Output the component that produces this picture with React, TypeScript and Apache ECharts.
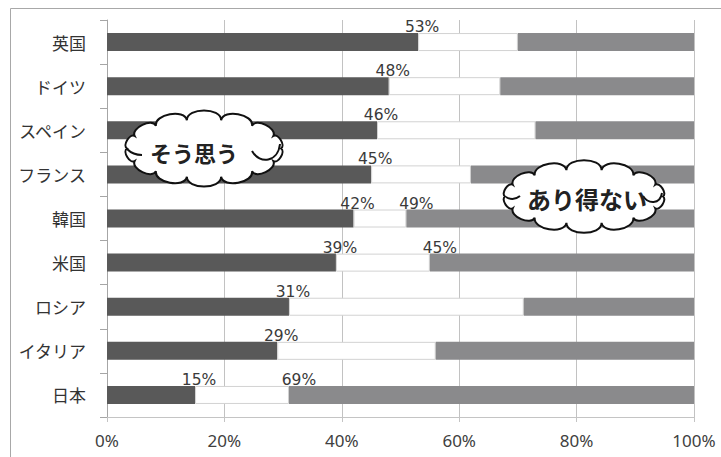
import React, { useEffect, useRef } from "react";
import * as echarts from "echarts";

// Survey answers per country, in percent of respondents
const categories = ["英国", "ドイツ", "スペイン", "フランス", "韓国", "米国", "ロシア", "イタリア", "日本"];
const agreeValues = [53, 48, 46, 45, 42, 39, 31, 29, 15];
const neutralValues = [17, 19, 27, 17, 9, 16, 40, 27, 16];
const impossibleValues = [30, 33, 27, 38, 49, 45, 29, 44, 69];
// countries whose "あり得ない" share is printed on the bar
const impossibleLabeled = ["韓国", "米国", "日本"];

const axisMin = 0;
const axisMax = 100;
const axisStep = 20;

// Closed cloud outline: points on an ellipse joined by outward-bulging cubic bumps
function cloudPath(cx: number, cy: number, rx: number, ry: number, n: number, k: number): string {
  const pts: [number, number][] = [];
  for (let i = 0; i < n; i++) {
    const t = (2 * Math.PI * i) / n;
    pts.push([cx + rx * Math.cos(t), cy + ry * Math.sin(t)]);
  }
  let d = `M${pts[0][0].toFixed(2)},${pts[0][1].toFixed(2)}`;
  for (let i = 0; i < n; i++) {
    const p0 = pts[i];
    const p1 = pts[(i + 1) % n];
    const mx = (p0[0] + p1[0]) / 2;
    const my = (p0[1] + p1[1]) / 2;
    let nx = (mx - cx) / (rx * rx);
    let ny = (my - cy) / (ry * ry);
    const nl = Math.hypot(nx, ny) || 1;
    nx /= nl;
    ny /= nl;
    const L = Math.hypot(p1[0] - p0[0], p1[1] - p0[1]);
    const h = k * L;
    const c1 = [p0[0] + nx * h, p0[1] + ny * h];
    const c2 = [p1[0] + nx * h, p1[1] + ny * h];
    d += ` C${c1[0].toFixed(2)},${c1[1].toFixed(2)} ${c2[0].toFixed(2)},${c2[1].toFixed(2)} ${p1[0].toFixed(2)},${p1[1].toFixed(2)}`;
  }
  return d + " Z";
}

function tail(x1: number, y1: number, cpx1: number, cpy1: number, cpx2: number, cpy2: number, x2: number, y2: number) {
  return {
    type: "bezierCurve",
    z: 101,
    shape: { x1, y1, cpx1, cpy1, cpx2, cpy2, x2, y2 },
    style: { stroke: "#111", lineWidth: 2, fill: null },
  };
}

export default function App() {
  const ref = useRef<HTMLDivElement>(null);

  useEffect(() => {
    if (!ref.current) return;
    echarts.graphic.registerShape("cloudAgree", echarts.graphic.extendPath(cloudPath(204, 148.5, 77, 29, 14, 0.38), {}));
    echarts.graphic.registerShape("cloudNo", echarts.graphic.extendPath(cloudPath(584, 196.5, 79, 27, 14, 0.38), {}));

    const chart = echarts.init(ref.current, null, { renderer: "svg" });

    const labelFont = { fontFamily: "DejaVu Sans", fontSize: 15.5, color: "#3a3a3a" };

    chart.setOption({
      animation: false,
      backgroundColor: "#ffffff",
      grid: { left: 107, right: 27, top: 20, bottom: 40 },
      xAxis: {
        type: "value",
        min: axisMin,
        max: axisMax,
        interval: axisStep,
        axisLine: { show: true, lineStyle: { color: "#c4c4c4", width: 1 } },
        axisTick: { show: true, length: 5, lineStyle: { color: "#c4c4c4" } },
        splitLine: { show: true, lineStyle: { color: "#c2c2c2", width: 1 } },
        axisLabel: {
          formatter: "{value}%",
          fontFamily: "Noto Sans",
          fontSize: 17,
          color: "#404040",
          margin: 15,
        },
      },
      yAxis: {
        type: "category",
        data: categories,
        inverse: true,
        axisLine: { show: true, lineStyle: { color: "#a6a6a6", width: 1 } },
        axisTick: { show: true, length: 7, lineStyle: { color: "#a6a6a6" } },
        axisLabel: {
          fontFamily: "Noto Sans CJK JP",
          fontSize: 17,
          color: "#333333",
          margin: 21,
        },
      },
      series: [
        {
          name: "そう思う",
          type: "bar",
          stack: "total",
          barWidth: 18,
          data: agreeValues,
          itemStyle: { color: "#595959" },
          label: {
            show: true,
            position: "right",
            distance: 0,
            align: "center",
            offset: [4, -15],
            formatter: "{c}%",
            ...labelFont,
          },
        },
        {
          name: "どちらでもない",
          type: "bar",
          stack: "total",
          barWidth: 18,
          data: neutralValues,
          itemStyle: { color: "#ffffff", borderColor: "#d2d2d2", borderWidth: 1 },
        },
        {
          name: "あり得ない",
          type: "bar",
          stack: "total",
          barWidth: 18,
          data: impossibleValues.map((v, i) => ({
            value: v,
            label: { show: impossibleLabeled.includes(categories[i]) },
          })),
          itemStyle: { color: "#8a8a8c" },
          label: {
            show: false,
            position: "left",
            distance: 0,
            align: "center",
            offset: [10, -15],
            formatter: "{c}%",
            ...labelFont,
          },
        },
      ],
      graphic: [
        {
          type: "rect",
          z: 90,
          silent: true,
          shape: { x: 10.5, y: 8.5, width: 740, height: 480 },
          style: { fill: null, stroke: "#a8a8a8", lineWidth: 1 },
        },
        {
          type: "cloudAgree",
          z: 100,
          x: 0,
          y: 0,
          style: { fill: "#ffffff", stroke: "#111", lineWidth: 2 },
        },
        tail(127, 149, 131, 153, 136, 155, 142, 155),
        tail(280, 144, 278, 162, 260, 165, 252, 151),
        {
          type: "text",
          z: 102,
          style: {
            text: "そう思う",
            x: 194,
            y: 152,
            align: "center",
            verticalAlign: "middle",
            fontFamily: "Noto Sans CJK JP",
            fontWeight: "bold",
            fontSize: 22,
            fill: "#222",
          },
        },
        {
          type: "cloudNo",
          z: 100,
          x: 0,
          y: 0,
          style: { fill: "#ffffff", stroke: "#111", lineWidth: 2 },
        },
        tail(506, 197, 511, 200, 515, 200, 520, 196),
        tail(662, 193, 660, 205, 648, 204, 643, 196),
        {
          type: "text",
          z: 102,
          style: {
            text: "あり得ない",
            x: 587,
            y: 198,
            align: "center",
            verticalAlign: "middle",
            fontFamily: "Noto Sans CJK JP",
            fontWeight: "bold",
            fontSize: 24,
            fill: "#222",
          },
        },
      ],
    });

    return () => {
      chart.dispose();
    };
  }, []);

  return (
    <div
      ref={ref}
      style={{ position: "absolute", left: 0, top: 0, width: 721, height: 457, background: "#fff" }}
    />
  );
}
